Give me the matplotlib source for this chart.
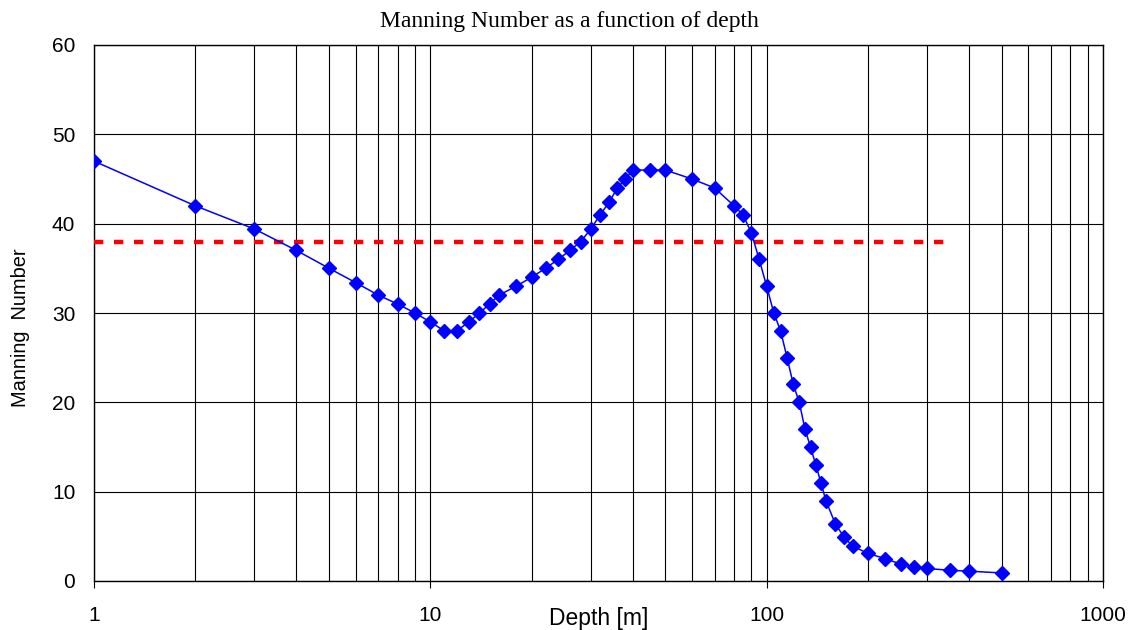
import matplotlib
matplotlib.use("Agg")
import matplotlib.pyplot as plt
from matplotlib.ticker import LogLocator, NullFormatter, FixedLocator, FixedFormatter

# Data
depth = [1, 2, 3, 4, 5, 6, 7, 8, 9, 10, 11, 12, 13, 14, 15, 16, 18, 20, 22, 24, 26, 28,
         30, 32, 34, 36, 38, 40, 45, 50, 60, 70, 80, 85, 90, 95, 100, 105, 110, 115, 120,
         125, 130, 135, 140, 145, 150, 160, 170, 180, 200, 225, 250, 275, 300, 350, 400, 500]
manning = [47, 42, 39.4, 37, 35, 33.4, 32, 31, 30, 29, 28, 28, 29, 30, 31, 32, 33, 34, 35, 36, 37, 38,
           39.4, 41, 42.4, 44, 45, 46, 46, 46, 45, 44, 42, 41, 39, 36, 33, 30, 28, 25, 22,
           20, 17, 15, 13, 11, 9, 6.4, 4.9, 3.9, 3.1, 2.5, 1.9, 1.6, 1.4, 1.2, 1.1, 0.9]
ref_depth = [1, 350]
ref_value = [38, 38]

x_ticks = [1, 10, 100, 1000]
x_tick_labels = ["1", "10", "100", "1000"]
y_ticks = [0, 10, 20, 30, 40, 50, 60]

W, H = 1133, 630
fig = plt.figure(figsize=(W / 100, H / 100), dpi=100)
ax = fig.add_axes([94 / W, 1 - 581 / H, (1103 - 94) / W, (581 - 45) / H])

ax.set_xscale("log")
ax.set_xlim(1, 1000)
ax.set_ylim(0, 60)

ax.plot(ref_depth, ref_value, color="#ff0000", linewidth=3.2, linestyle=(0, (2.1, 2.4)),
        zorder=3)
ax.plot(depth, manning, color="#0000ff", linewidth=1.1, marker="D", markersize=7,
        markerfacecolor="#0000ff", markeredgecolor="#0000ff", zorder=4)

ax.xaxis.set_major_locator(FixedLocator(x_ticks))
ax.xaxis.set_major_formatter(FixedFormatter(x_tick_labels))
ax.xaxis.set_minor_locator(LogLocator(base=10, subs=range(2, 10)))
ax.xaxis.set_minor_formatter(NullFormatter())
ax.set_yticks(y_ticks)

ax.grid(True, which="major", axis="both", color="black", linewidth=0.8)
ax.grid(True, which="minor", axis="x", color="black", linewidth=0.8)
ax.set_axisbelow(True)

for s in ax.spines.values():
    s.set_color("black")
    s.set_linewidth(1.0)

ax.tick_params(axis="x", which="major", direction="out", length=5, width=0.8,
               labelsize=15, colors="black", pad=13)
ax.tick_params(axis="x", which="minor", length=0)
ax.tick_params(axis="y", which="major", length=0, labelsize=15, colors="black", pad=13.5)
for lbl in ax.get_xticklabels() + ax.get_yticklabels():
    lbl.set_family("Liberation Sans")

fig.text(598.5 / W, 1 - 625 / H, "Depth [m]", fontsize=16.5, family="Liberation Sans",
         ha="center", va="baseline")
fig.text(21 / W, 1 - 328 / H, "Manning  Number", fontsize=14.4, family="Liberation Sans",
         rotation=90, ha="center", va="center")
fig.text(569.5 / W, 1 - 27 / H, "Manning Number as a function of depth", fontsize=17,
         family="Liberation Serif", ha="center", va="baseline")

fig.savefig("out.png", dpi=100)
